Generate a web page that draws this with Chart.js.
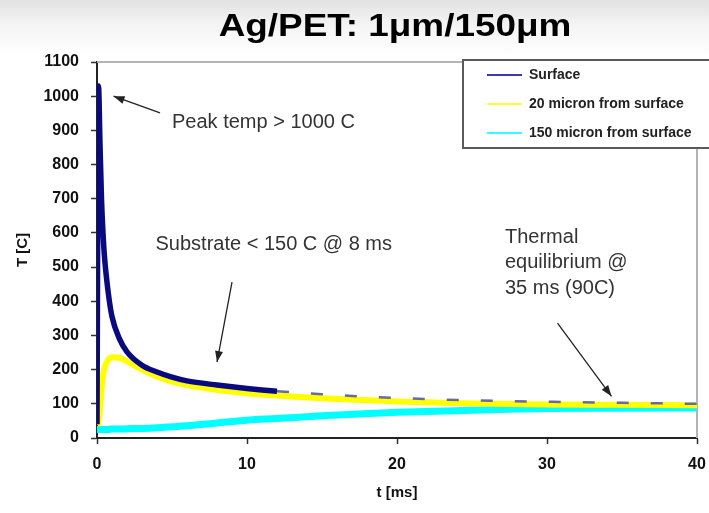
<!DOCTYPE html>
<html>
<head>
<meta charset="utf-8">
<title>Ag/PET: 1μm/150μm</title>
<script src="https://cdn.jsdelivr.net/npm/chart.js@4.4.1/dist/chart.umd.min.js"></script>
<style>
  html, body { margin: 0; padding: 0; }
  body {
    width: 709px; height: 513px; overflow: hidden;
    background: linear-gradient(to bottom, #e2e2e2 0px, #f4f4f4 25px, #ffffff 55px);
  }
</style>
</head>
<body>
<canvas id="chart" width="709" height="513"></canvas>
<script>
const chartTitle = "Ag/PET: 1μm/150μm";
const seriesNames = ["Surface", "20 micron from surface", "150 micron from surface"];
const timeMs    = [0, 0.1, 0.2, 0.3, 0.4, 0.5, 0.75, 1, 1.5, 2, 3, 4, 5, 6, 8, 10, 12, 15, 20, 25, 30, 35, 40];
const surface   = [40, 1030, 860, 700, 600, 530, 425, 355, 290, 252, 213, 193, 178, 167, 155, 145, 137, 128, 117, 110, 106, 103, 100];
const micron20  = [40, 45, 80, 140, 180, 205, 228, 236, 235, 225, 200, 180, 165, 155, 141, 131, 124, 116, 107, 101, 98, 97, 96];
const micron150 = [25, 25, 25, 25, 25, 25, 25, 26, 26, 27, 28, 30, 33, 36, 44, 52, 57, 65, 75, 81, 86, 87, 88];

// notes in data units (t, T)
const notes = [
  { lines: ["Peak temp > 1000 C"], t: 5.0, T: 922 },
  { lines: ["Substrate < 150 C @ 8 ms"], t: 3.9, T: 565 },
  { lines: ["Thermal", "equilibrium @", "35 ms (90C)"], t: 27.2, T: 588 }
];
const arrows = [
  { from: [4.2, 951], to: [1.1, 1000] },
  { from: [9.0, 456], to: [8.0, 222] },
  { from: [30.7, 336], to: [34.3, 122] }
];

const toPoints = (vals) => vals.map((v, i) => ({ x: timeMs[i], y: v }));
const font = '"Liberation Sans", Arial, sans-serif';

function arrowHead(ctx, x0, y0, x1, y1) {
  const ang = Math.atan2(y1 - y0, x1 - x0);
  const len = 11, half = 4;
  ctx.beginPath();
  ctx.moveTo(x1, y1);
  ctx.lineTo(x1 - len * Math.cos(ang) + half * Math.sin(ang), y1 - len * Math.sin(ang) - half * Math.cos(ang));
  ctx.lineTo(x1 - len * Math.cos(ang) - half * Math.sin(ang), y1 - len * Math.sin(ang) + half * Math.cos(ang));
  ctx.closePath();
  ctx.fill();
}

const overlay = {
  id: "overlay",
  beforeDatasetsDraw(chart) {
    const { ctx, chartArea: a } = chart;
    ctx.save();
    ctx.strokeStyle = "#b4b4b4";
    ctx.lineWidth = 2;
    ctx.beginPath();
    ctx.moveTo(a.left, a.top);
    ctx.lineTo(a.right, a.top);
    ctx.lineTo(a.right, a.bottom);
    ctx.stroke();
    ctx.restore();
  },
  afterDraw(chart) {
    const { ctx, chartArea: a, scales: { x, y } } = chart;
    ctx.save();

    // title
    ctx.fillStyle = "#000";
    ctx.font = "bold 31px " + font;
    ctx.textAlign = "center";
    ctx.textBaseline = "middle";
    ctx.save();
    ctx.translate((a.left + a.right) / 2 - 2, 27);
    ctx.scale(1.19, 1);
    ctx.fillText(chartTitle, 0, 0);
    ctx.restore();

    // notes
    ctx.fillStyle = "#333";
    ctx.font = "20px " + font;
    ctx.textAlign = "left";
    notes.forEach((n) => {
      const px = x.getPixelForValue(n.t);
      const py = y.getPixelForValue(n.T);
      n.lines.forEach((l, i) => ctx.fillText(l, px, py + i * 25.5));
    });

    // arrows
    ctx.strokeStyle = "#222";
    ctx.fillStyle = "#222";
    ctx.lineWidth = 1.3;
    arrows.forEach((ar) => {
      const x0 = x.getPixelForValue(ar.from[0]), y0 = y.getPixelForValue(ar.from[1]);
      const x1 = x.getPixelForValue(ar.to[0]), y1 = y.getPixelForValue(ar.to[1]);
      ctx.beginPath();
      ctx.moveTo(x0, y0);
      ctx.lineTo(x1, y1);
      ctx.stroke();
      arrowHead(ctx, x0, y0, x1, y1);
    });

    // legend box
    const lx = a.right - 234, ly = a.top - 2;
    ctx.fillStyle = "#fff";
    ctx.fillRect(lx, ly, chart.width - lx + 10, 88);
    ctx.strokeStyle = "#5a5a5a";
    ctx.lineWidth = 2;
    ctx.strokeRect(lx, ly, chart.width - lx + 10, 88);
    ctx.font = "bold 14px " + font;
    ctx.textBaseline = "middle";
    chart.data.datasets.forEach((ds, i) => {
      const ry = ly + 15 + i * 29;
      ctx.strokeStyle = ds.legendColor;
      ctx.lineWidth = 2;
      ctx.beginPath();
      ctx.moveTo(lx + 24, ry);
      ctx.lineTo(lx + 59, ry);
      ctx.stroke();
      ctx.fillStyle = "#222";
      ctx.fillText(ds.label, lx + 66, ry);
    });
    ctx.restore();
  }
};

const tickFont = { family: font, size: 16, weight: "bold" };

new Chart(document.getElementById("chart"), {
  type: "line",
  data: {
    datasets: [
      {
        label: seriesNames[0],
        data: toPoints(surface),
        borderColor: "#0a0a80",
        legendColor: "#3a3aa8",
        borderWidth: 5.5,
        segment: {
          borderDash: (c) => (c.p0.parsed.x >= 12 ? [12, 22] : undefined),
          borderWidth: (c) => (c.p0.parsed.x >= 12 ? 2.5 : undefined),
          borderColor: (c) => (c.p0.parsed.x >= 12 ? "#6a6a9c" : undefined)
        }
      },
      {
        label: seriesNames[1],
        data: toPoints(micron20),
        borderColor: "#ffff00",
        legendColor: "#ffff33",
        borderWidth: 6
      },
      {
        label: seriesNames[2],
        data: toPoints(micron150),
        borderColor: "#00ffff",
        legendColor: "#33ffff",
        borderWidth: 7
      }
    ]
  },
  options: {
    responsive: false,
    animation: false,
    cubicInterpolationMode: "monotone",
    elements: { point: { radius: 0 } },
    layout: { padding: { top: 62, right: 12, left: 0, bottom: 0 } },
    scales: {
      x: {
        type: "linear",
        min: 0,
        max: 40,
        ticks: { stepSize: 10, color: "#111", padding: 11, font: tickFont, callback: (v) => String(v) },
        grid: { drawOnChartArea: false, drawTicks: true, tickLength: 6, tickColor: "#333", tickWidth: 1.5 },
        border: { color: "#222", width: 2 },
        title: { display: true, text: "t [ms]", color: "#111", padding: { top: 0, bottom: 11 }, font: { family: font, size: 15, weight: "bold" } },
        afterFit: (s) => { s.height = 75; s.paddingRight = 0; s.paddingLeft = 0; }
      },
      y: {
        min: 0,
        max: 1100,
        ticks: { stepSize: 100, color: "#111", padding: 12, font: tickFont, callback: (v) => String(v) },
        grid: { drawOnChartArea: false, drawTicks: true, tickLength: 6, tickColor: "#333", tickWidth: 1.5 },
        border: { color: "#222", width: 2 },
        title: { display: true, text: "T [C]", color: "#111", padding: { top: 14, bottom: 0 }, font: { family: font, size: 15, weight: "bold" } },
        afterFit: (s) => { s.width = 97; }
      }
    },
    plugins: {
      legend: { display: false },
      tooltip: { enabled: false }
    }
  },
  plugins: [overlay]
});
</script>
</body>
</html>
